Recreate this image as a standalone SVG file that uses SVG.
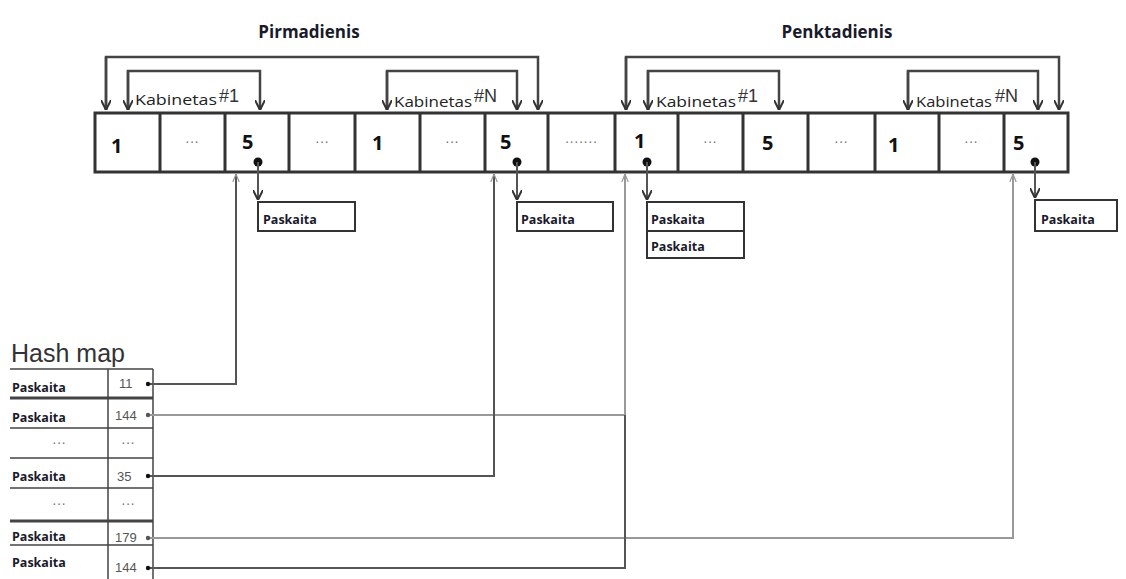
<svg xmlns="http://www.w3.org/2000/svg" width="1126" height="579" viewBox="0 0 1126 579">
<defs>
<marker id="v" viewBox="0 0 10 10" refX="10" refY="5" markerWidth="10" markerHeight="10" markerUnits="userSpaceOnUse" orient="auto">
<path d="M0,0 L10,5 L0,10" fill="none" stroke="#333" stroke-width="2"/>
</marker>
<marker id="vg" viewBox="0 0 10 10" refX="10" refY="5" markerWidth="8" markerHeight="8" markerUnits="userSpaceOnUse" orient="auto">
<path d="M0,1 L10,5 L0,9" fill="none" stroke="#999" stroke-width="1.5"/>
</marker>
</defs>
<style>
.day{font-family:"Open Sans","Noto Sans",sans-serif;font-weight:bold;font-size:17px;fill:#1a1a2a}
.num{font-family:"Open Sans","Noto Sans",sans-serif;font-weight:bold;font-size:20px;fill:#111}
.dots{font-family:"Liberation Sans",sans-serif;font-size:14px;fill:#777}
.kab{font-family:"Open Sans","Noto Sans",sans-serif;font-size:15px;fill:#222}
.hash{font-family:"Liberation Sans",Arial,sans-serif;font-size:18px;fill:#333}
.pk{font-family:"Open Sans","Noto Sans",sans-serif;font-weight:bold;font-size:12.5px;fill:#1a1a2a}
.val{font-family:"Liberation Sans",Arial,sans-serif;font-size:13px;fill:#555}
.cell{fill:#fff;stroke:#333;stroke-width:3}
.br{fill:none;stroke:#444;stroke-width:2.5}
.box{fill:#fff;stroke:#333;stroke-width:2}
.dk{fill:none;stroke:#555;stroke-width:2}
.gr{fill:none;stroke:#999;stroke-width:2}
</style>
<rect width="1126" height="579" fill="#fff"/>

<g id="labels">
<text class="day" x="309" y="38" text-anchor="middle">Pirmadienis</text>
<text class="day" x="837" y="38" text-anchor="middle">Penktadienis</text>
</g>

<g id="brackets">
<path class="br" d="M106,110 V57 H538 V110" marker-end="url(#v)"/>
<path class="br" d="M106,57 V110" marker-end="url(#v)"/>
<path class="br" d="M128,110 V71 H260 V110" marker-end="url(#v)"/>
<path class="br" d="M128,71 V110" marker-end="url(#v)"/>
<path class="br" d="M387,110 V71 H517 V110" marker-end="url(#v)"/>
<path class="br" d="M387,71 V110" marker-end="url(#v)"/>
<path class="br" d="M626,110 V57 H1059 V110" marker-end="url(#v)"/>
<path class="br" d="M626,57 V110" marker-end="url(#v)"/>
<path class="br" d="M648,110 V71 H779 V110" marker-end="url(#v)"/>
<path class="br" d="M648,71 V110" marker-end="url(#v)"/>
<path class="br" d="M908,110 V71 H1038 V110" marker-end="url(#v)"/>
<path class="br" d="M908,71 V110" marker-end="url(#v)"/>
<text class="kab" x="135" y="105" textLength="82" lengthAdjust="spacingAndGlyphs">Kabinetas</text>
<text class="hash" x="219" y="102">#1</text>
<text class="kab" x="394" y="107" textLength="78" lengthAdjust="spacingAndGlyphs">Kabinetas</text>
<text class="hash" x="474" y="102">#N</text>
<text class="kab" x="656" y="107" textLength="80" lengthAdjust="spacingAndGlyphs">Kabinetas</text>
<text class="hash" x="738" y="102">#1</text>
<text class="kab" x="916" y="107" textLength="76" lengthAdjust="spacingAndGlyphs">Kabinetas</text>
<text class="hash" x="995" y="102">#N</text>
</g>

<g id="row">
<rect class="cell" x="95" y="113" width="973" height="59"/>
<path stroke="#333" stroke-width="3" d="M160,113V172M225,113V172M289,113V172M355,113V172M420,113V172M485,113V172M548,113V172M615,113V172M678,113V172M743,113V172M808,113V172M875,113V172M939,113V172M1004,113V172"/>
<text class="num" x="111" y="153">1</text>
<text class="dots" x="192" y="146" text-anchor="middle">···</text>
<text class="num" x="242" y="149">5</text>
<text class="dots" x="322" y="146" text-anchor="middle">···</text>
<text class="num" x="372" y="150">1</text>
<text class="dots" x="452" y="146" text-anchor="middle">···</text>
<text class="num" x="500" y="149">5</text>
<text class="dots" x="581" y="146" text-anchor="middle">·······</text>
<text class="num" x="634" y="148">1</text>
<text class="dots" x="710" y="146" text-anchor="middle">···</text>
<text class="num" x="762" y="150">5</text>
<text class="dots" x="841" y="146" text-anchor="middle">···</text>
<text class="num" x="888" y="152">1</text>
<text class="dots" x="971" y="146" text-anchor="middle">···</text>
<text class="num" x="1013" y="150">5</text>
<circle cx="258" cy="162" r="4.5" fill="#111"/>
<circle cx="517" cy="162" r="4.5" fill="#111"/>
<circle cx="647" cy="162" r="4.5" fill="#111"/>
<circle cx="1035" cy="162" r="4.5" fill="#111"/>
</g>

<g id="paskaita1">
<rect class="box" x="258" y="202" width="97" height="29"/>
<text class="pk" x="263" y="224">Paskaita</text>
</g>
<g id="paskaita2">
<rect class="box" x="517" y="202" width="96" height="29"/>
<text class="pk" x="521" y="224">Paskaita</text>
</g>
<g id="paskaita3">
<rect class="box" x="647" y="202" width="97" height="29"/>
<text class="pk" x="651" y="224">Paskaita</text>
<rect class="box" x="647" y="231" width="97" height="27"/>
<text class="pk" x="651" y="251">Paskaita</text>
</g>
<g id="paskaita4">
<rect class="box" x="1035" y="200" width="82" height="31"/>
<text class="pk" x="1041" y="224">Paskaita</text>
</g>

<g id="hashmap">
<text x="11" y="362" font-family="Liberation Sans,Arial,sans-serif" font-size="25" fill="#333">Hash map</text>
<path stroke="#444" stroke-width="1.5" fill="none" d="M10,369H153M10,428H153M10,458H153M10,488H153M10,545H153M108,369V579M153,369V579"/>
<path stroke="#444" stroke-width="3" fill="none" d="M10,398H153M10,521H153"/>
<text class="pk" x="12" y="392">Paskaita</text>
<text class="val" x="119" y="388">11</text>
<text class="pk" x="12" y="422">Paskaita</text>
<text class="val" x="115" y="420">144</text>
<text class="dots" x="59" y="447" text-anchor="middle">···</text>
<text class="dots" x="128" y="447" text-anchor="middle">···</text>
<text class="pk" x="12" y="481">Paskaita</text>
<text class="val" x="117" y="481">35</text>
<text class="dots" x="59" y="508" text-anchor="middle">···</text>
<text class="dots" x="128" y="508" text-anchor="middle">···</text>
<text class="pk" x="12" y="541">Paskaita</text>
<text class="val" x="115" y="542">179</text>
<text class="pk" x="12" y="567">Paskaita</text>
<text class="val" x="115" y="572">144</text>
</g>

<g id="connectors">
<path class="dk" d="M258,162 V200" marker-end="url(#v)"/>
<path class="dk" d="M517,162 V200" marker-end="url(#v)"/>
<path class="dk" d="M647,162 V200" marker-end="url(#v)"/>
<path class="dk" d="M1035,162 V198" marker-end="url(#v)"/>
<path class="dk" d="M148,384 H236 V174" marker-end="url(#vg)"/>
<path class="gr" d="M148,415 H625 V174" marker-end="url(#vg)"/>
<path class="dk" d="M148,476 H494 V174" marker-end="url(#vg)"/>
<path class="gr" d="M148,538 H1013 V174" marker-end="url(#vg)"/>
<path class="dk" d="M148,568 H625 V415"/>
<circle cx="148" cy="384" r="2.2" fill="#111"/>
<circle cx="148" cy="415" r="2.2" fill="#555"/>
<circle cx="148" cy="476" r="2.2" fill="#111"/>
<circle cx="148" cy="538" r="2.2" fill="#555"/>
<circle cx="148" cy="568" r="2.2" fill="#111"/>
</g>
</svg>
